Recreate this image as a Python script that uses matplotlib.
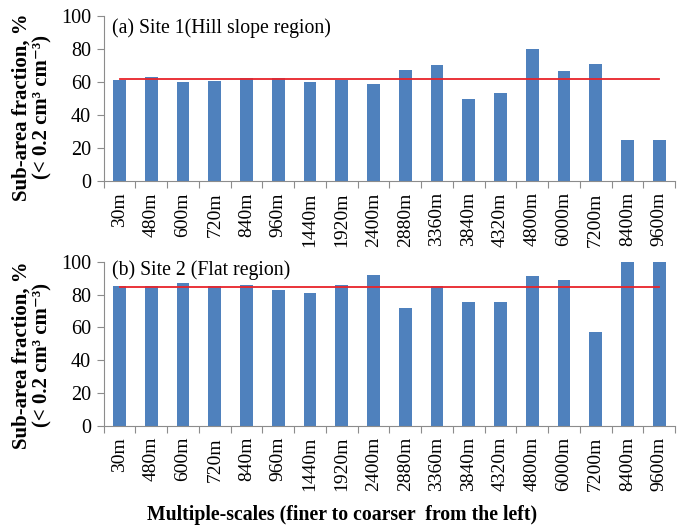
import matplotlib.pyplot as plt
import numpy as np

plt.rcParams['font.family'] = ['Liberation Serif', 'DejaVu Serif']

scales = ['30m', '480m', '600m', '720m', '840m', '960m', '1440m', '1920m', '2400m',
          '2880m', '3360m', '3840m', '4320m', '4800m', '6000m', '7200m', '8400m', '9600m']

site1 = [61.5, 62.9, 60.2, 60.6, 62.3, 62.3, 59.8, 61.5, 59.0,
         67.5, 70.0, 49.9, 53.6, 79.9, 66.5, 71.0, 24.7, 24.7]
site1_ref = 61.6

site2 = [85.0, 85.0, 86.8, 85.0, 86.0, 82.9, 81.2, 86.0, 92.1,
         72.1, 85.0, 75.4, 75.4, 91.4, 89.2, 57.2, 100.0, 100.0]
site2_ref = 84.9

titles = ['(a) Site 1(Hill slope region)', '(b) Site 2 (Flat region)']

blue = '#4F81BD'
red = '#E8232A'
grey = '#8C8C8C'

fig = plt.figure(figsize=(6.91, 5.31), dpi=100)
ax1 = fig.add_axes([0.150, 0.659, 0.827, 0.311])
ax2 = fig.add_axes([0.150, 0.198, 0.827, 0.309])

x = np.arange(len(scales))

for ax, vals, ref, title, ty, ly in [(ax1, site1, site1_ref, titles[0], 0.927, 0.45),
                                     (ax2, site2, site2_ref, titles[1], 0.95, 0.43)]:
    ax.bar(x, vals, width=0.4, color=blue, zorder=2)
    ax.plot([x[0], x[-1]], [ref, ref], color=red, lw=1.3, zorder=3)
    ax.set_xlim(-0.5, len(scales) - 0.5)
    ax.set_ylim(0, 100)
    ax.set_yticks([0, 20, 40, 60, 80, 100])
    ax.set_xticks(np.arange(len(scales) + 1) - 0.5)
    ax.set_xticklabels([])
    ax.set_xticks(x, minor=True)
    ax.set_xticklabels(scales, minor=True, rotation=90, fontsize=14)
    ax.tick_params(axis='x', which='minor', length=0, pad=8)
    ax.tick_params(axis='x', which='major', length=5, color=grey, direction='out')
    ax.tick_params(axis='y', length=5, color=grey, labelsize=14.5, pad=4)
    for s in ['top', 'right']:
        ax.spines[s].set_visible(False)
    for s in ['left', 'bottom']:
        ax.spines[s].set_color(grey)
    ax.set_ylabel('Sub-area fraction, %\n(< 0.2 cm³ cm⁻³)', fontsize=15,
                  fontweight='bold', linespacing=1.05)
    ax.yaxis.set_label_coords(-0.09, ly)
    ax.text(0.015, ty, title, transform=ax.transAxes, fontsize=14.2, va='center')

fig.text(342 / 691, 1 - 515 / 531, 'Multiple-scales (finer to coarser  from the left)',
         fontsize=14.2, fontweight='bold', ha='center', va='center')

fig.savefig('out.png', dpi=100)
